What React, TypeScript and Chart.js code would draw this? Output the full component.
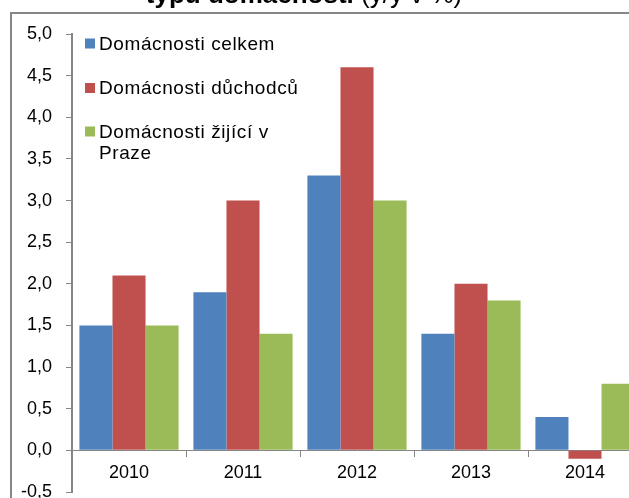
import React, { useEffect, useRef } from "react";
import { Chart, registerables } from "chart.js";

Chart.register(...registerables);

const categories = ["2010", "2011", "2012", "2013", "2014"];
const seriesNames = ["Domácnosti celkem", "Domácnosti důchodců", "Domácnosti žijící v\nPraze"];
const celkem = [1.5, 1.9, 3.3, 1.4, 0.4];
const duchodcu = [2.1, 3.0, 4.6, 2.0, -0.1];
const praha = [1.5, 1.4, 3.0, 1.8, 0.8];
const seriesColors = ["#4F81BD", "#C0504D", "#9BBB59"];
const titleBold = "typu domácnosti";
const titleRegular = " (y/y v %)";
const yMin = -0.5;
const yMax = 5.0;
const yStep = 0.5;

const FONT = "'Liberation Sans', Arial, sans-serif";
const AXIS_GRAY = "#868686";

const CANVAS_W = 700;
const CANVAS_H = 560;

const decorPlugin = {
  id: "decor",
  beforeDraw(chart: any) {
    const ctx = chart.ctx;
    ctx.save();
    ctx.fillStyle = "#ffffff";
    ctx.fillRect(0, 0, chart.width, chart.height);
    // frame
    ctx.strokeStyle = AXIS_GRAY;
    ctx.lineWidth = 2;
    ctx.strokeRect(11, 13, chart.width + 20, chart.height + 20);
    // title (mostly cut off at the top)
    ctx.fillStyle = "#000000";
    ctx.textBaseline = "alphabetic";
    ctx.font = `bold 26px ${FONT}`;
    const wb = ctx.measureText(titleBold).width;
    ctx.font = `26px ${FONT}`;
    const wr = ctx.measureText(titleRegular).width;
    const cx = 304;
    const x0 = cx - (wb + wr) / 2;
    ctx.font = `bold 26px ${FONT}`;
    ctx.textAlign = "left";
    ctx.fillText(titleBold, x0, 2.5);
    ctx.font = `26px ${FONT}`;
    ctx.fillText(titleRegular, x0 + wb, 2.5);
    ctx.restore();
  },
  afterDraw(chart: any) {
    const ctx = chart.ctx;
    ctx.save();
    ctx.font = `19px ${FONT}`;
    try { (ctx as any).letterSpacing = "0.6px"; } catch (e) {}
    ctx.textBaseline = "middle";
    ctx.textAlign = "left";
    const ds = chart.data.datasets;
    const centers = [43.5, 88, 131.5];
    for (let i = 0; i < ds.length; i++) {
      const y = centers[i];
      ctx.fillStyle = ds[i].backgroundColor;
      ctx.fillRect(85, y - 5, 10, 10);
      ctx.fillStyle = "#000000";
      const lines = String(ds[i].label).split("\n");
      lines.forEach((ln, j) => ctx.fillText(ln, 99, y + 1 + j * 21));
    }
    ctx.restore();
  },
};

export default function App() {
  const ref = useRef<HTMLCanvasElement | null>(null);
  useEffect(() => {
    if (!ref.current) return;
    const chart = new Chart(ref.current, {
      type: "bar",
      data: {
        labels: categories,
        datasets: [
          { label: seriesNames[0], data: celkem, backgroundColor: seriesColors[0] },
          { label: seriesNames[1], data: duchodcu, backgroundColor: seriesColors[1] },
          { label: seriesNames[2], data: praha, backgroundColor: seriesColors[2] },
        ],
      },
      options: {
        responsive: false,
        animation: false,
        devicePixelRatio: 1,
        datasets: { bar: { categoryPercentage: 0.87, barPercentage: 1.0 } },
        layout: { padding: { left: 0, top: 34, right: CANVAS_W - 642, bottom: CANVAS_H - 492 } },
        plugins: { legend: { display: false }, title: { display: false }, tooltip: { enabled: false } },
        scales: {
          x: {
            position: { y: 0 } as any,
            grid: { offset: true, drawOnChartArea: false, drawTicks: true, tickLength: 6, color: AXIS_GRAY },
            border: { color: AXIS_GRAY, width: 1 },
            ticks: { font: { family: FONT, size: 18 }, color: "#000000", padding: 6 },
          },
          y: {
            min: yMin,
            max: yMax,
            grid: { drawOnChartArea: false, drawTicks: true, tickLength: 6, color: AXIS_GRAY },
            border: { color: AXIS_GRAY, width: 2 },
            ticks: {
              stepSize: yStep,
              font: { family: FONT, size: 18 },
              color: "#000000",
              padding: 14,
              callback: (v: any) => Number(v).toFixed(1).replace(".", ","),
            },
            afterFit: (scale: any) => { scale.width = 72; },
          },
        },
      },
      plugins: [decorPlugin],
    });
    return () => chart.destroy();
  }, []);
  return (
    <div style={{ position: "fixed", left: 0, top: 0, width: 629, height: 498, overflow: "hidden", background: "#fff" }}>
      <canvas ref={ref} width={CANVAS_W} height={CANVAS_H} style={{ display: "block", width: CANVAS_W, height: CANVAS_H }} />
    </div>
  );
}
